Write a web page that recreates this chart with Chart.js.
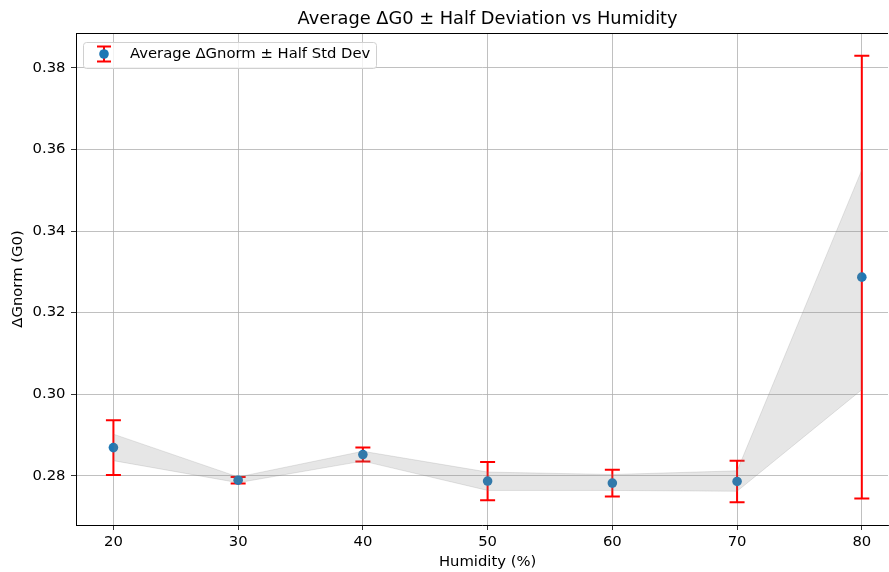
<!DOCTYPE html>
<html>
<head>
<meta charset="utf-8">
<script src="https://cdn.jsdelivr.net/npm/chart.js@4"></script>
<style>
  body { margin: 0; background: #fff; }
  #wrap { width: 889px; height: 572px; }
</style>
</head>
<body>
<div id="wrap"><canvas id="myChart" width="889" height="572"></canvas></div>
<script>
// values
const humidity = [20, 30, 40, 50, 60, 70, 80];
const avgG = [0.2869, 0.2789, 0.2852, 0.2787, 0.2782, 0.2786, 0.3287];
const halfStd = [0.0067, 0.0008, 0.0017, 0.0047, 0.0033, 0.0051, 0.0543];
const bandLow = [0.2837, 0.2783, 0.2836, 0.2764, 0.2764, 0.2762, 0.3011];
const bandHigh = [0.2902, 0.2797, 0.2860, 0.2809, 0.2803, 0.2812, 0.3550];
const xTicks = [20, 30, 40, 50, 60, 70, 80];
const yTicks = [0.28, 0.30, 0.32, 0.34, 0.36, 0.38];

const titleText = "Average \u0394G0 \u00b1 Half Deviation vs Humidity";
const legendText = "Average \u0394Gnorm \u00b1 Half Std Dev";
const xLabel = "Humidity (%)";
const FONT = "'DejaVu Sans', sans-serif";
const blue = "#1f77b4";

const toXY = (ys) => humidity.map((x, i) => ({ x: x, y: ys[i] }));

// error bars + title + legend + top spine
const extras = {
  id: "extras",
  beforeDatasetDraw(chart, args) {
    if (args.index !== 2) return;
    const ctx = chart.ctx, xs = chart.scales.x, ys = chart.scales.y;
    ctx.save();
    ctx.strokeStyle = "#ff0000";
    ctx.lineWidth = 2;
    humidity.forEach((h, i) => {
      const px = xs.getPixelForValue(h);
      const top = ys.getPixelForValue(avgG[i] + halfStd[i]);
      const bot = ys.getPixelForValue(avgG[i] - halfStd[i]);
      ctx.beginPath();
      ctx.moveTo(px, top); ctx.lineTo(px, bot);
      ctx.moveTo(px - 7.5, top); ctx.lineTo(px + 7.5, top);
      ctx.moveTo(px - 7.5, bot); ctx.lineTo(px + 7.5, bot);
      ctx.stroke();
    });
    ctx.restore();
  },
  afterDraw(chart) {
    const ctx = chart.ctx, a = chart.chartArea;
    const mid = chart.scales.x.getPixelForValue(50); // matplotlib axes centre
    ctx.save();
    // top spine
    ctx.strokeStyle = "#000";
    ctx.lineWidth = 1;
    ctx.beginPath();
    ctx.moveTo(a.left, a.top + 0.5); ctx.lineTo(a.right, a.top + 0.5);
    ctx.stroke();
    ctx.fillStyle = "#000";
    ctx.textAlign = "center";
    ctx.textBaseline = "middle";
    ctx.font = "17.8px " + FONT;
    ctx.fillText(titleText, mid, 19);
    ctx.font = "14.8px " + FONT;
    ctx.fillText(xLabel, mid, 562);
    // legend box
    const bx = 83, by = 42, bw = 293, bh = 26;
    ctx.fillStyle = "rgba(255,255,255,0.8)";
    ctx.strokeStyle = "#d0d0d0";
    ctx.beginPath();
    ctx.roundRect(bx + 0.5, by + 0.5, bw, bh, 3);
    ctx.fill(); ctx.stroke();
    const mx = 104, my = 54;
    ctx.strokeStyle = "#ff0000";
    ctx.lineWidth = 2;
    ctx.beginPath();
    ctx.moveTo(mx, my - 7.5); ctx.lineTo(mx, my + 7.5);
    ctx.moveTo(mx - 7, my - 7.5); ctx.lineTo(mx + 7, my - 7.5);
    ctx.moveTo(mx - 7, my + 7.5); ctx.lineTo(mx + 7, my + 7.5);
    ctx.stroke();
    ctx.fillStyle = blue;
    ctx.beginPath();
    ctx.arc(mx, my, 4.8, 0, Math.PI * 2);
    ctx.fill();
    ctx.fillStyle = "#000";
    ctx.font = "14.8px " + FONT;
    ctx.textAlign = "left";
    ctx.fillText(legendText, 130, my);
    ctx.restore();
  }
};

const myChart = new Chart("myChart", {
  type: "line",
  data: {
    datasets: [
      {
        data: toXY(bandHigh),
        borderColor: "rgba(128,128,128,0.2)",
        borderWidth: 1,
        backgroundColor: "rgba(128,128,128,0.2)",
        pointRadius: 0,
        fill: "+1",
        tension: 0
      },
      {
        data: toXY(bandLow),
        borderColor: "rgba(128,128,128,0.2)",
        borderWidth: 1,
        pointRadius: 0,
        fill: false,
        tension: 0
      },
      {
        data: toXY(avgG),
        showLine: false,
        pointRadius: 4.8,
        pointBackgroundColor: blue,
        pointBorderWidth: 0,
        borderColor: blue
      }
    ]
  },
  options: {
    responsive: false,
    animation: false,
    layout: { autoPadding: false, padding: { top: 33, right: 1, left: 0, bottom: 0 } },
    plugins: {
      legend: { display: false },
      title: { display: false },
      tooltip: { enabled: false }
    },
    scales: {
      x: {
        type: "linear",
        min: 17,
        max: 82.1,
        afterBuildTicks: (s) => { s.ticks = xTicks.map(v => ({ value: v })); },
        afterFit: (s) => { s.height = 47; s.paddingLeft = 0; s.paddingRight = 0; },
        grid: { color: "#b0b0b0", lineWidth: 0.8, tickColor: "#000", tickLength: 5 },
        border: { color: "#000", width: 1 },
        ticks: { color: "#000", padding: 3, font: { family: FONT, size: 14.8 } }
      },
      y: {
        min: 0.26792,
        max: 0.38858,
        afterBuildTicks: (s) => { s.ticks = yTicks.map(v => ({ value: v })); },
        afterFit: (s) => { s.width = 76; s.paddingTop = 0; s.paddingBottom = 0; },
        grid: { color: "#b0b0b0", lineWidth: 0.8, tickColor: "#000", tickLength: 5 },
        border: { color: "#000", width: 1 },
        ticks: {
          color: "#000",
          padding: 5.5,
          font: { family: FONT, size: 14.8 },
          callback: (v) => Number(v).toFixed(2)
        },
        title: {
          display: true,
          text: "\u0394Gnorm (G0)",
          color: "#000",
          font: { family: FONT, size: 14.8 },
          padding: { top: 9, bottom: 0 }
        }
      }
    }
  },
  plugins: [extras]
});
</script>
</body>
</html>
